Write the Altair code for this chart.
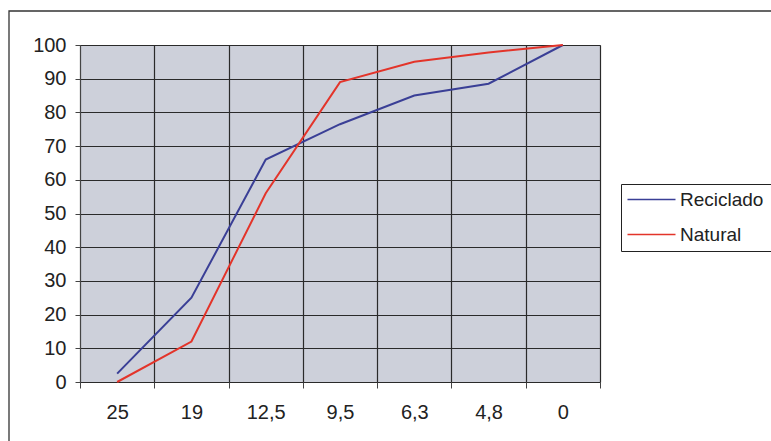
import altair as alt
import pandas as pd

categories = ["25", "19", "12,5", "9,5", "6,3", "4,8", "0"]
reciclado = [2.5, 25, 66, 76.5, 85, 88.5, 100]
natural = [0, 12, 56, 89, 95, 97.8, 100]
series_names = ["Reciclado", "Natural"]
series_colors = ["#3a3f96", "#e3342a"]
y_ticks = [0, 10, 20, 30, 40, 50, 60, 70, 80, 90, 100]

rows = []
for c, r, n in zip(categories, reciclado, natural):
    rows.append({"cat": c, "serie": "Reciclado", "v": r})
    rows.append({"cat": c, "serie": "Natural", "v": n})
df = pd.DataFrame(rows)

FONT = "Liberation Sans"

lines = alt.Chart(df).mark_line(strokeWidth=2).encode(
    x=alt.X(
        "cat:O",
        sort=categories,
        bandPosition=0.5,
        scale=alt.Scale(type="band", paddingInner=0, paddingOuter=0),
        axis=alt.Axis(
            title=None,
            labelAngle=0,
            tickBand="extent",
            grid=True,
            gridColor="#2a2a2a",
            gridWidth=1.2,
            domain=False,
            tickColor="#444",
            tickSize=6,
            labelPadding=14,
            labelFontSize=20,
            labelFont=FONT,
            labelColor="#222",
        ),
    ),
    y=alt.Y(
        "v:Q",
        scale=alt.Scale(domain=[0, 100], nice=False),
        axis=alt.Axis(
            title=None,
            values=y_ticks,
            grid=True,
            gridColor="#2a2a2a",
            gridWidth=1.2,
            domainColor="#444",
            tickColor="#444",
            tickSize=5,
            labelPadding=9,
            labelFontSize=20,
            labelFont=FONT,
            labelColor="#222",
        ),
    ),
    color=alt.Color(
        "serie:N",
        sort=series_names,
        scale=alt.Scale(domain=series_names, range=series_colors),
        legend=alt.Legend(
            title="\u00a0",
            titleOrient="right",
            titlePadding=40,
            titleFontSize=1,
            orient="none",
            legendX=541,
            legendY=139,
            symbolType="M-1.5,0L6.5,0",
            symbolSize=144,
            symbolStrokeWidth=1.5,
            labelFontSize=19,
            labelFont=FONT,
            labelColor="#222",
            labelOffset=34,
            strokeColor="#222",
            fillColor="white",
            padding=6,
            rowPadding=15,
            cornerRadius=0,
        ),
    ),
)

border = alt.Chart(pd.DataFrame({"a": [0]})).mark_rect(
    fill=None, stroke="#333", strokeWidth=1.3
).encode(
    x=alt.value(-71), x2=alt.value(760), y=alt.value(-34), y2=alt.value(460)
)

chart = (
    alt.layer(border, lines)
    .properties(
        width=520,
        height=337,
        padding={"left": 80, "top": 45, "right": 171, "bottom": 59},
        autosize=alt.AutoSizeParams(type="none"),
        background="white",
    )
    .configure_view(fill="#cdd0da", stroke="#999", strokeWidth=1)
)

chart.save("out.html", embed_options={"renderer": "svg", "actions": False})
